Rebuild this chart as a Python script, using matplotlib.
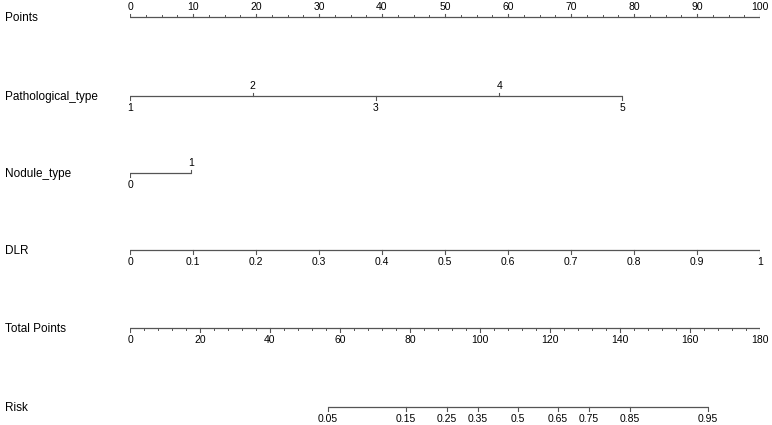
import matplotlib
matplotlib.use("Agg")
import matplotlib.pyplot as plt
import numpy as np

# scale values (positions in "Points" units 0-100)
points_ticks = np.arange(0, 101, 10)
points_minor = np.arange(0, 100.1, 2.5)

path_levels = ["1", "2", "3", "4", "5"]
path_points = [0, 19.5, 39.0, 58.6, 78.1]

nodule_levels = ["0", "1"]
nodule_points = [0, 9.7]

dlr_labels = ["0", "0.1", "0.2", "0.3", "0.4", "0.5", "0.6", "0.7", "0.8", "0.9", "1"]
dlr_points = np.arange(0, 101, 10)

total_ticks = np.arange(0, 181, 20)
total_minor = np.arange(0, 180.1, 4)
total_max = 180

risk_labels = ["0.05", "0.15", "0.25", "0.35", "0.5", "0.65", "0.75", "0.85", "0.95"]
risk_total = [56.6, 78.9, 90.6, 99.4, 110.9, 122.3, 131.1, 142.9, 165.1]

ROW_NAMES = ["Points", "Pathological_type", "Nodule_type", "DLR", "Total Points", "Risk"]
ROW_Y = [17, 96, 173, 250, 328, 407]

LINE_C = "#555555"
TICK_FS = 7.5
NAME_FS = 8.5
FONT = "Liberation Sans"

fig = plt.figure(figsize=(7.72, 4.25), dpi=100)
ax = fig.add_axes([130 / 772, 0, 630 / 772, 1])
ax.set_xlim(0, 100)
ax.set_ylim(425, 0)
ax.axis("off")


def draw_scale(y, xs, labels, sides, minor=None, ticklen=3.5):
    ax.plot([min(xs), max(xs)], [y, y], color=LINE_C, lw=0.9, solid_capstyle="butt")
    if minor is not None:
        for m in minor:
            ax.plot([m, m], [y, y + (-2 if sides[0] < 0 else 2)], color=LINE_C, lw=0.7)
    for x, lab, s in zip(xs, labels, sides):
        ax.plot([x, x], [y, y + s * ticklen], color=LINE_C, lw=0.8)
        off = 12 if s > 0 else -10
        ax.text(x, y + off, lab, ha="center", va="center",
                fontsize=TICK_FS, family=FONT)


for name, y in zip(ROW_NAMES, ROW_Y):
    fig.text(5 / 772, 1 - (y + 1) / 425, name, ha="left", va="center",
             fontsize=NAME_FS, family=FONT)

# Points
draw_scale(ROW_Y[0], points_ticks, [str(v) for v in points_ticks],
           [-1] * len(points_ticks), minor=points_minor)
# Pathological_type: labels alternate below / above
draw_scale(ROW_Y[1], path_points, path_levels, [1, -1, 1, -1, 1])
# Nodule_type
draw_scale(ROW_Y[2], nodule_points, nodule_levels, [1, -1])
# DLR
draw_scale(ROW_Y[3], dlr_points, dlr_labels, [1] * len(dlr_labels))
# Total Points
tp = total_ticks * 100 / total_max
draw_scale(ROW_Y[4], tp, [str(v) for v in total_ticks], [1] * len(tp),
           minor=total_minor * 100 / total_max)
# Risk
rp = np.array(risk_total) * 100 / total_max
draw_scale(ROW_Y[5], rp, risk_labels, [1] * len(rp))

fig.savefig("out.png", dpi=100)
